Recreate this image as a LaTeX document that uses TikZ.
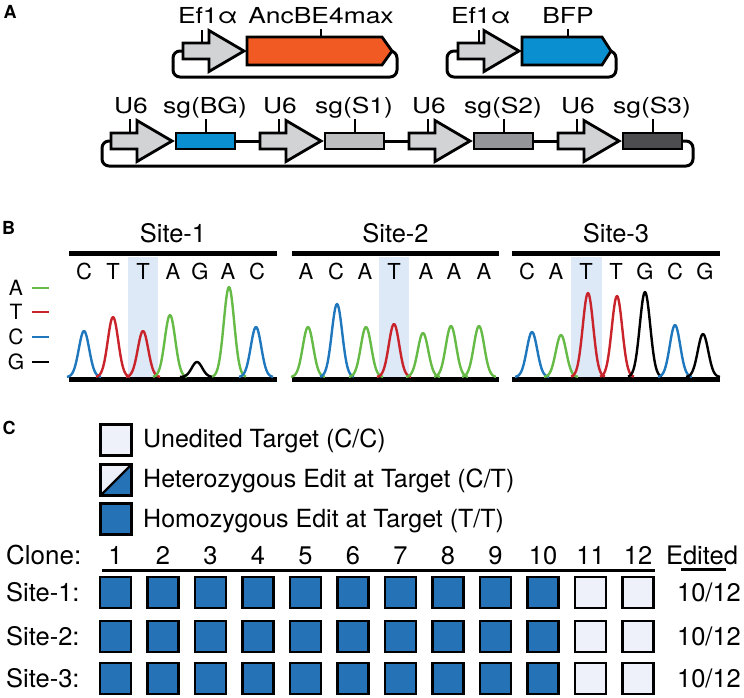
\documentclass[tikz,border=0pt]{standalone}
\usepackage{fontspec}
\usepackage{graphicx}
\setmainfont{TeX Gyre Heros}
\definecolor{promgray}{HTML}{D1D3D4}
\definecolor{orangeg}{HTML}{F15A22}
\definecolor{bfpblue}{HTML}{0A8FD0}
\definecolor{sgone}{HTML}{BCBEC0}
\definecolor{sgtwo}{HTML}{939598}
\definecolor{sgthree}{HTML}{4D4D4F}
\definecolor{trgreen}{HTML}{66BA46}
\definecolor{trred}{HTML}{C9242B}
\definecolor{trblue}{HTML}{1F78BE}
\definecolor{hilite}{HTML}{DDE9F6}
\definecolor{sqblue}{HTML}{2672B6}
\definecolor{sqlight}{HTML}{EEF1F9}
\newcommand{\promarrow}[2]{%
  \filldraw[ol, fill=promgray] (#1,#2-8) -- (#1+26,#2-8) -- (#1+26,#2-20.5) -- (#1+61,#2) -- (#1+26,#2+20.5) -- (#1+26,#2+8) -- (#1,#2+8) -- cycle;}
\newcommand{\wide}[1]{\scalebox{1.2}[1]{#1}}
\begin{document}
\begin{tikzpicture}[x=1pt,y=-1pt,
  ol/.style={line width=2.8pt, draw=black, line join=miter},
  bb/.style={line width=3pt, rounded corners=7pt},
  tickln/.style={line width=1.3pt},
  lab/.style={font=\fontsize{25.5}{28}\selectfont, anchor=base, inner sep=0pt},
  alab/.style={font=\fontsize{22}{26}\selectfont, anchor=base, inner sep=0pt},
  baselab/.style={font=\fontsize{22}{26}\selectfont, anchor=base, inner sep=0pt},
  leglab/.style={font=\fontsize{21}{24}\selectfont, anchor=base, inner sep=0pt},
  panel/.style={font=\fontsize{18}{20}\selectfont\bfseries, inner sep=0pt},
  bar/.style={line width=5pt},
  trace/.style={line width=2.4pt, line join=round},
  sq/.style={line width=2.8pt, draw=black}]
\useasboundingbox (0,0) rectangle (744,697);
% ---------------- Panel A ----------------
\node[panel] (pA) at (10,12) {A};
% plasmid 1
\draw[bb] (183,51) -- (173,51) -- (173,77) -- (397,77) -- (397,51) -- (392,51);
\promarrow{183}{51}
\filldraw[ol, fill=orangeg] (247,37) -- (382,37) -- (392,51) -- (382,65) -- (247,65) -- cycle;
\draw[tickln] (202,30) -- (202,43);
\draw[tickln] (321,29) -- (321,37);
\node[alab] (ef1) at (208,23) {\wide{Ef1α}};
\node[alab] (anc) at (321,23) {\wide{AncBE4max}};
% plasmid 2
\draw[bb] (458,51) -- (447,51) -- (447,77) -- (616,77) -- (616,51) -- (611,51);
\promarrow{458}{51}
\filldraw[ol, fill=bfpblue] (522,37) -- (602,37) -- (611,51) -- (602,65) -- (522,65) -- cycle;
\draw[tickln] (479,30) -- (479,43);
\draw[tickln] (568,29) -- (568,37);
\node[alab] (ef2) at (481,23) {\wide{Ef1α}};
\node[alab] (bfp) at (568,23) {\wide{BFP}};
% plasmid 3
\draw[bb] (111,141) -- (102,141) -- (102,166) -- (693,166) -- (693,141) -- (682,141);
\foreach \i in {0,1,2} {
  \draw[line width=3pt] (235+149*\i,141) -- (260+149*\i,141);
}
\foreach \i/\col/\name in {0/bfpblue/sg(BG),1/sgone/sg(S1),2/sgtwo/sg(S2),3/sgthree/sg(S3)} {
  \promarrow{111+149*\i}{141}
  \filldraw[ol, fill=\col] (176+149*\i,133) rectangle (235+149*\i,149);
  \draw[tickln] (130+149*\i,119) -- (130+149*\i,133);
  \draw[tickln] (206+149*\i,119) -- (206+149*\i,133);
  \node[alab] (u\i) at (131+149*\i,113) {\wide{U6}};
  \node[alab] (s\i) at (205+149*\i,113) {\wide{\name}};
}
% ---------------- Panel B ----------------
\node[panel] (pB) at (8.5,227.5) {B};
% legend
\foreach \l/\y/\col in {A/295/trgreen,T/319/trred,C/344/trblue,G/369/black} {
  \node[leglab] (lg\l) at (16,\y) {\l};
  \draw[line width=2.6pt, \col] (32,\y-7) -- (49,\y-7);
}
% highlights
\fill[hilite] (128,257) rectangle (158,377);
\fill[hilite] (379,257) rectangle (409,377);
\fill[hilite] (571,257) rectangle (602,377);
% titles and bars
\foreach \t/\xa/\xb in {Site-1/69/277,Site-2/292/499,Site-3/512/720} {
  \draw[bar] (\xa,253) -- (\xb,253);
  \draw[bar] (\xa,379) -- (\xb,379);
  \node[lab] (t\t) at ({(\xa+\xb)/2},242) {\t};
}
% base letters
\foreach \b/\x in {C/84,T/113,T/143,A/173,G/200,A/228,C/257,
                   A/306,C/336,A/365,T/394,A/426,A/454,A/484,
                   C/527,A/556,T/586,T/616,G/645,C/675,G/705} {
  \node[baselab] at (\x,279) {\b};
}
% peaks
\foreach \c/\p/\col in {84/331/trblue,113/317/trred,143/331/trred,170/315/trgreen,197/362/black,229/287/trgreen,256/327/trblue,
   308/327/trgreen,337/304/trblue,366/327/trgreen,394/324/trred,423/333/trgreen,451/326/trgreen,479/326/trgreen,
   532/332/trblue,561/335/trgreen,588/293/trred,617/296/trred,645/292/black,675/325/trblue,703/334/black} {
  \pgfmathsetmacro\lo{\c-17}
  \pgfmathsetmacro\hi{\c+17}
  \draw[trace, \col] plot[domain=\lo:\hi, samples=41] (\x, {377-(377-\p)*exp(-((\x-\c)/7.4)^2)});
}
% ---------------- Panel C ----------------
\node[panel] (pC) at (9,428) {C};
\filldraw[sq, fill=sqlight] (100.5,424.5) rectangle (131.5,455.5);
\fill[sqlight] (100.5,464.5) rectangle (131.5,495.5);
\fill[sqblue] (100.5,495.5) -- (131.5,495.5) -- (131.5,464.5) -- cycle;
\draw[line width=2.2pt] (100.5,495.5) -- (131.5,464.5);
\draw[sq] (100.5,464.5) rectangle (131.5,495.5);
\filldraw[sq, fill=sqblue] (100.5,503.5) rectangle (131.5,534.5);
\node[lab, anchor=base west, font=\fontsize{25}{28}\selectfont] (lg1) at (143,447) {Unedited Target (C/C)};
\node[lab, anchor=base west, font=\fontsize{25}{28}\selectfont] (lg2) at (143,487) {Heterozygous Edit at Target (C/T)};
\node[lab, anchor=base west, font=\fontsize{25}{28}\selectfont] (lg3) at (143,527) {Homozygous Edit at Target (T/T)};
% grid
\node[lab, anchor=base west, font=\fontsize{26}{28}\selectfont] (clone) at (6,564) {Clone:};
\draw[line width=3pt] (102,570) -- (655,570);
\node[lab] (edited) at (702,564) {Edited};
\draw[line width=3pt] (681,569) -- (726,569);
\foreach \n in {1,...,12} {
  \node[lab] (c\n) at (115.5+47.5*\n-47.5,564) {\n};
}
\foreach \r/\yc in {1/592.5,2/636.5,3/678.5} {
  \node[lab, anchor=base west] (site\r) at (6,\yc+8.5) {Site-\r:};
  \node[lab] (ed\r) at (709,\yc+8.5) {10/12};
  \foreach \n in {1,...,12} {
    \pgfmathsetmacro\cx{115.5+47.5*(\n-1)}
    \ifnum\n<11
      \filldraw[sq, fill=sqblue] (\cx-15.5,\yc-15.5) rectangle (\cx+15.5,\yc+15.5);
    \else
      \filldraw[sq, fill=sqlight] (\cx-15.5,\yc-15.5) rectangle (\cx+15.5,\yc+15.5);
    \fi
  }
}
\end{tikzpicture}
\end{document}
